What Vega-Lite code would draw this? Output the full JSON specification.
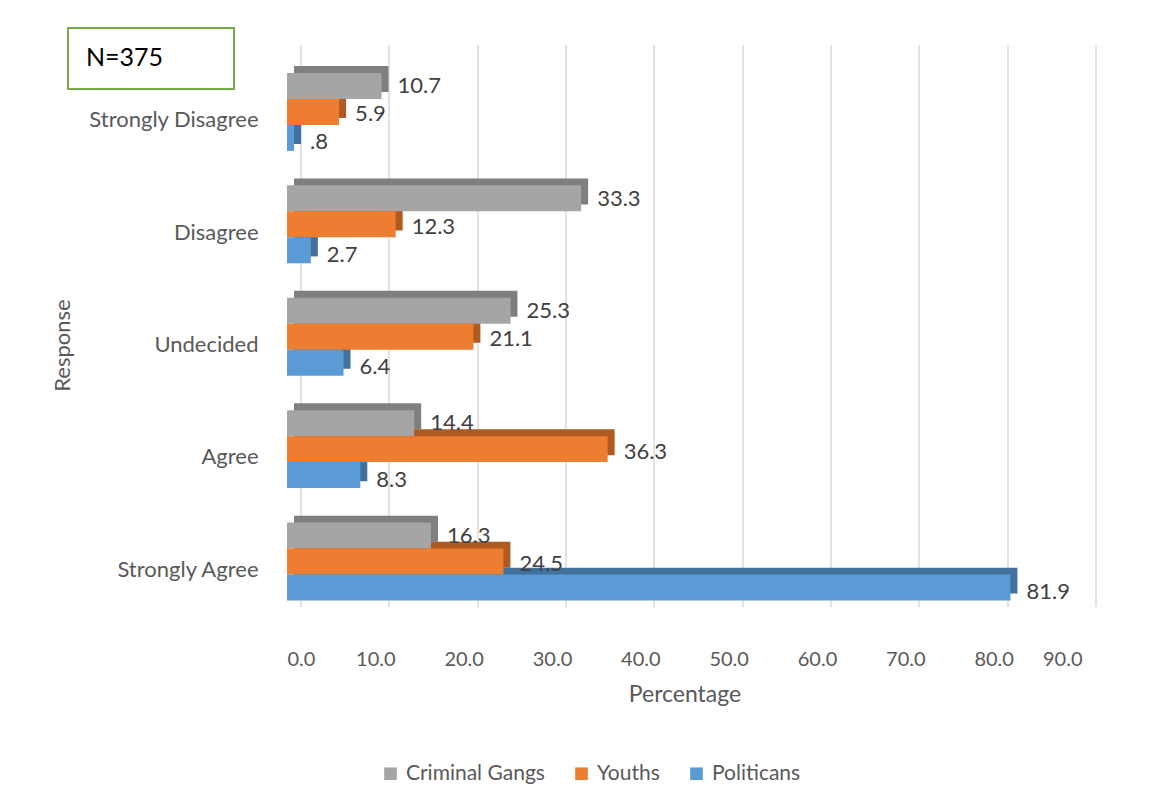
{
  "$schema": "https://vega.github.io/schema/vega-lite/v6.json",
  "width": 795,
  "height": 562,
  "autosize": {"type": "none"},
  "padding": {"left": 287, "top": 64, "right": 72, "bottom": 182},
  "background": "white",
  "config": {"view": {"stroke": null}, "font": "Lato", "legend": {"strokeWidth": 2}},
  "data": {
    "values": [
      {"response": "Strongly Disagree", "group": "Criminal Gangs", "value": 10.7, "label": "10.7"},
      {"response": "Strongly Disagree", "group": "Youths", "value": 5.9, "label": "5.9"},
      {"response": "Strongly Disagree", "group": "Politicans", "value": 0.8, "label": ".8"},
      {"response": "Disagree", "group": "Criminal Gangs", "value": 33.3, "label": "33.3"},
      {"response": "Disagree", "group": "Youths", "value": 12.3, "label": "12.3"},
      {"response": "Disagree", "group": "Politicans", "value": 2.7, "label": "2.7"},
      {"response": "Undecided", "group": "Criminal Gangs", "value": 25.3, "label": "25.3"},
      {"response": "Undecided", "group": "Youths", "value": 21.1, "label": "21.1"},
      {"response": "Undecided", "group": "Politicans", "value": 6.4, "label": "6.4"},
      {"response": "Agree", "group": "Criminal Gangs", "value": 14.4, "label": "14.4"},
      {"response": "Agree", "group": "Youths", "value": 36.3, "label": "36.3"},
      {"response": "Agree", "group": "Politicans", "value": 8.3, "label": "8.3"},
      {"response": "Strongly Agree", "group": "Criminal Gangs", "value": 16.3, "label": "16.3"},
      {"response": "Strongly Agree", "group": "Youths", "value": 24.5, "label": "24.5"},
      {"response": "Strongly Agree", "group": "Politicans", "value": 81.9, "label": "81.9"}
    ]
  },
  "encoding": {
    "y": {
      "field": "response",
      "type": "nominal",
      "sort": ["Strongly Disagree", "Disagree", "Undecided", "Agree", "Strongly Agree"],
      "scale": {"paddingInner": 0, "paddingOuter": 0},
      "axis": {
        "title": "Response",
        "titleFontSize": 22,
        "titleFontWeight": "normal",
        "titleColor": "#595959",
        "titleX": -213,
        "labelFontSize": 22,
        "labelColor": "#595959",
        "labelPadding": 29,
        "ticks": false,
        "domain": false,
        "grid": false
      }
    }
  },
  "layer": [
    {
      "mark": {"type": "rule", "opacity": 0, "strokeOpacity": 0, "strokeWidth": 0},
      "encoding": {
        "x": {
          "field": "value",
          "type": "quantitative",
          "scale": {"domain": [-3.736, 90], "range": [0, 828], "nice": false},
          "axis": {
            "orient": "top",
            "title": null,
            "labels": false,
            "ticks": false,
            "domain": false,
            "grid": true,
            "gridColor": "#d9d9d9",
            "gridWidth": 1.5,
            "translate": -19,
            "values": [0, 10, 20, 30, 40, 50, 60, 70, 80, 90]
          }
        },
        "strokeDash": {
          "datum": "N=375",
          "type": "nominal",
          "legend": {
            "title": "N=375",
            "titleOrient": "left",
            "titleAnchor": "middle",
            "titleBaseline": "middle",
            "titleFontSize": 25,
            "titleFontWeight": "normal",
            "titleColor": "#000000",
            "titlePadding": 24,
            "labelExpr": "''",
            "symbolType": "square",
            "symbolSize": 576,
            "symbolOpacity": 0,
            "symbolStrokeWidth": 0,
            "orient": "none",
            "legendX": -219,
            "legendY": -36,
            "strokeColor": "#70ad47",
            "padding": 18
          }
        }
      }
    },
    {
      "mark": {"type": "bar", "xOffset": 7},
      "encoding": {
        "x": {"field": "value", "type": "quantitative", "scale": {"domain": [0, 90], "nice": false}, "axis": null},
        "yOffset": {
          "field": "group",
          "type": "nominal",
          "sort": ["Criminal Gangs", "Youths", "Politicans"],
          "scale": {"paddingInner": 0, "paddingOuter": 0.663, "align": 0.06}
        },
        "color": {
          "field": "group",
          "type": "nominal",
          "scale": {"domain": ["Criminal Gangs", "Youths", "Politicans"], "range": ["#7f7f7f", "#ae5a21", "#41719c"]},
          "legend": null
        }
      }
    },
    {
      "mark": {"type": "bar"},
      "encoding": {
        "x": {
          "field": "value",
          "type": "quantitative",
          "scale": {"domain": [0, 90], "nice": false},
          "axis": {
            "orient": "bottom",
            "title": "Percentage",
            "titleFontSize": 23,
            "titleFontWeight": "normal",
            "titleColor": "#595959",
            "titlePadding": 14,
            "values": [0, 10, 20, 30, 40, 50, 60, 70, 80, 90],
            "format": ".1f",
            "labelFontSize": 20,
            "labelColor": "#595959",
            "labelPadding": 23,
            "ticks": false,
            "domain": false,
            "grid": false
          }
        },
        "yOffset": {
          "field": "group",
          "type": "nominal",
          "sort": ["Criminal Gangs", "Youths", "Politicans"],
          "scale": {"paddingInner": 0, "paddingOuter": 0.663, "align": 0.26}
        },
        "color": {
          "field": "group",
          "type": "nominal",
          "scale": {"domain": ["Criminal Gangs", "Youths", "Politicans"], "range": ["#a5a5a5", "#ed7d31", "#5b9bd5"]},
          "legend": {
            "title": null,
            "orient": "none",
            "direction": "horizontal",
            "legendX": 93,
            "legendY": 699,
            "symbolType": "square",
            "symbolSize": 160,
            "symbolStrokeWidth": 0,
            "labelFontSize": 21,
            "labelColor": "#595959",
            "columnPadding": 26,
            "labelOffset": 5
          }
        }
      }
    },
    {
      "mark": {"type": "text", "align": "left", "baseline": "middle", "dx": 16, "dy": 2, "fontSize": 22, "color": "#404040"},
      "encoding": {
        "x": {"field": "value", "type": "quantitative", "scale": {"domain": [0, 90], "nice": false}, "axis": null},
        "yOffset": {
          "field": "group",
          "type": "nominal",
          "sort": ["Criminal Gangs", "Youths", "Politicans"],
          "scale": {"padding": 1.25, "align": 0.36}
        },
        "text": {"field": "label"}
      }
    }
  ],
  "resolve": {"scale": {"color": "independent", "yOffset": "independent", "x": "independent"}, "axis": {"x": "independent"}}
}
